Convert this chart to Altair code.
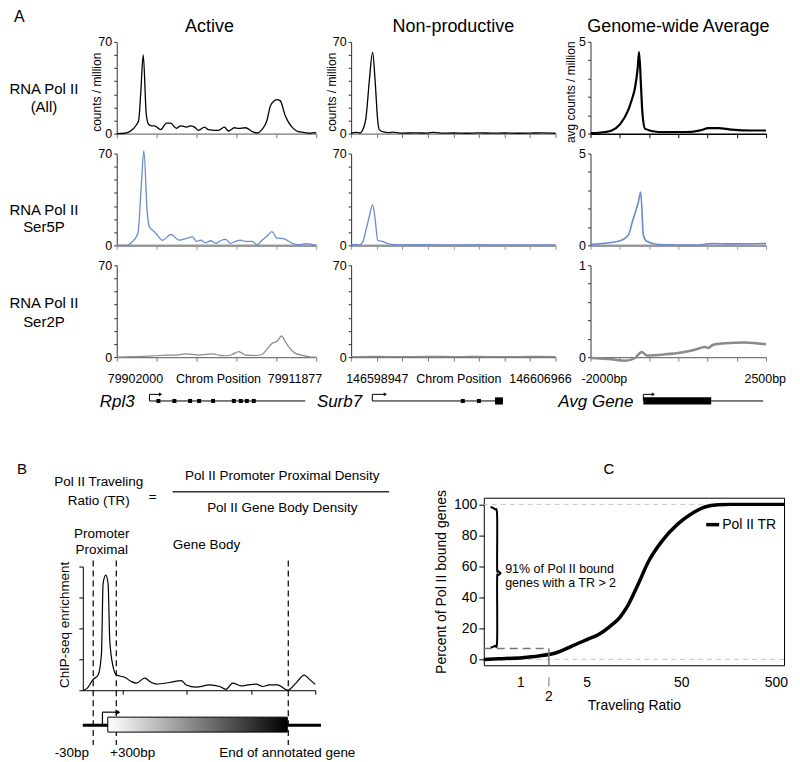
import altair as alt
import pandas as pd

FONT = "Liberation Sans"

# ---------------- Panel A data (bins across each region / bp for average) ----------------
# Active gene (Rpl3), 100 bins across 79902000-79911877
active_all_x = [0, 4, 6.5, 10, 11, 12, 13.3, 14.8, 16, 17.5, 19, 22, 25, 27, 30, 32, 35, 37, 39, 41, 44, 46, 49, 51, 54, 56, 59, 61, 64.5, 68, 70.3, 72.8, 75.3, 77, 79, 80.3, 82, 84.4, 86, 88.5, 91, 93.5, 96.8, 99.3, 100]
active_all_y = [0, 0.3, 1.5, 7, 10, 30, 60, 15, 7, 6, 6, 3, 8, 8, 4, 6, 5, 6, 5, 2.5, 5, 3, 2.5, 2.5, 5, 2, 4.5, 4, 4.5, 1.5, 0.5, 3, 10, 21, 25, 26, 25, 14, 9, 4, 1.5, 1, 0.3, 0.8, 0.3]
active_s5_x = [0, 5, 7.3, 10.6, 12.3, 13.6, 15.3, 16.4, 18, 19.7, 23, 27.2, 31.3, 34.7, 38, 40, 42, 44.6, 47.1, 49.6, 52, 54.6, 57, 59.5, 62, 64.5, 67.8, 70.3, 72.8, 75.3, 77.8, 80.3, 83.6, 87.7, 91, 95.2, 98.5, 100]
active_s5_y = [0, 0, 2, 9, 45, 72, 25, 14, 11.5, 9, 3.9, 8.3, 3.9, 5.2, 6.5, 3, 4, 2, 3.5, 1.5, 3.5, 4.5, 1.5, 3, 4, 3, 3, 0.5, 3.9, 7, 10.4, 5.5, 5.2, 1.8, 0.5, 1.3, 0.5, 0]
active_s2_x = [0, 13, 19.7, 25, 30, 34.7, 41.3, 44.6, 48, 51.2, 54.6, 57.9, 61.2, 64.5, 69.5, 72.8, 75.3, 77.8, 80.3, 82.7, 84.4, 86.1, 89.4, 92.7, 97.7, 100]
active_s2_y = [0, 0.5, 1, 1.5, 1.5, 2.5, 1.5, 2, 2.5, 1.5, 1, 2, 4.2, 1.5, 1.2, 2, 6, 10.4, 12, 16.1, 12, 8, 3, 1.5, 0, 0]

# Non-productive gene (Surb7), 80 bins across 146598947-146606966
np_all_x = [0, 2, 3.5, 4.3, 5.8, 7.1, 8.4, 9.4, 10.4, 11, 12.2, 15, 16, 20, 25, 30, 32, 35, 40, 45, 50, 55, 60, 65, 70, 75, 80]
np_all_y = [0.5, 1, 0.5, 2, 12, 40, 62, 40, 10, 3, 1.5, 0.8, 1.2, 0.4, 0.6, 0.4, 1.0, 0.4, 0.5, 0.3, 0.6, 0.4, 0.5, 0.3, 0.4, 0.6, 0.3]
np_s5_x = [0, 2, 3.1, 4.4, 5.8, 7.1, 8.4, 9.4, 10.4, 12.3, 15, 20, 30, 40, 50, 60, 70, 80]
np_s5_y = [0.5, 0.8, 0.3, 2, 11.7, 22, 31, 20, 3.9, 3, 1, 0.4, 0.5, 0.3, 0.5, 0.3, 0.4, 0.3]
np_s2_x = [0, 10, 20, 30, 40, 50, 60, 70, 80]
np_s2_y = [0.3, 0.5, 0.3, 0.6, 0.4, 0.5, 0.3, 0.5, 0.4]

# Genome-wide average, bp (-2000 .. 2500)
gen_all_x = [-2000, -1624, -1455, -1241, -1028, -944, -857, -791, -755, -704, -670, -601, -261, 250, 590, 846, 1017, 1273, 1613, 2125, 2500]
gen_all_y = [0.03, 0.09, 0.17, 0.52, 1.31, 1.83, 2.53, 3.57, 4.44, 2.5, 1.13, 0.26, 0.09, 0.09, 0.1, 0.2, 0.3, 0.3, 0.22, 0.17, 0.17]
gen_s5_x = [-2000, -1284, -1028, -944, -857, -773, -714, -645, -560, -261, 762, 1102, 1613, 2500]
gen_s5_y = [0.05, 0.22, 0.56, 1.16, 1.76, 2.36, 2.9, 0.56, 0.22, 0.05, 0.02, 0.1, 0.08, 0.1]
gen_s2_x = [-2000, -1455, -1113, -857, -688, -560, -90, 327, 677, 933, 1017, 1145, 1444, 1956, 2296, 2500]
gen_s2_y = [-0.01, -0.025, -0.04, -0.01, 0.056, 0.018, 0.03, 0.05, 0.08, 0.11, 0.1, 0.135, 0.15, 0.16, 0.147, 0.14]

# Gene models
rpl3_line = [16.4, 94.5]
rpl3_arrow = [16.4, 22]
rpl3_exons = [20.9, 28.9, 36.8, 41.3, 48.3, 58.7, 62.2, 65.2, 68.7]
surb7_line = [8.3, 59.4]
surb7_arrow = [8.3, 13.4]
surb7_exons = [43.7, 50.0]
surb7_big = [56.3, 59.4]
avg_line = [1094, 2424]
avg_arrow = [-645, -389]
avg_box = [-645, 1094]

# ---------------- Panel B data ----------------
b_pos = [-0.617, -0.555, -0.46, -0.384, -0.331, -0.306, -0.264, -0.228, -0.202, -0.15, -0.098, 0.031, 0.135, 0.213, 0.342, 0.446, 0.524, 0.73, 0.912, 0.99, 1.146, 1.35, 1.51, 1.61, 1.715, 1.845, 1.95, 2.08, 2.18, 2.285, 2.415, 2.57, 2.70, 2.83, 2.91, 3.0]
b_sig = [0, 0.06, 0.35, 0.49, 1.19, 3.45, 3.72, 3.45, 1.62, 0.76, 0.49, 0.42, 0.28, 0.23, 0.39, 0.25, 0.2, 0.25, 0.31, 0.17, 0.1, 0.17, 0.12, 0.03, 0.23, 0.14, 0.17, 0.2, 0.12, 0.17, 0.17, 0, 0.23, 0.49, 0.35, 0.19]
b_dash = [-0.46, -0.10, 2.58]
b_gene_line = [-0.622, 3.09]
b_box = [-0.233, 2.565]
b_arrow = [-0.316, -0.073]

# ---------------- Panel C data ----------------
c_tr = [0.41, 0.59, 1.04, 1.56, 2.4, 3.5, 5.04, 6.7, 9.3, 11.2, 13.3, 17.7, 22.5, 31, 46.5, 64.4, 89, 123, 170, 611]
c_pct = [0, 0.4, 1.1, 2.2, 4.3, 8.6, 12.8, 16, 22.4, 27, 33.5, 49, 63, 76, 87.6, 94, 98.3, 99.8, 100, 100]
brace_x = [0.483, 0.535, 0.567, 0.567, 0.58, 0.616, 0.58, 0.567, 0.567, 0.535, 0.483]
brace_y = [98.3, 97.0, 93.0, 60.0, 57.0, 55.6, 54.2, 51.0, 12.0, 8.7, 7.5]

W_ACT, W_NP, W_GEN = 200, 205, 176
H_ROW = 92
H_GENE = 30

BLUE = "#6a8ad0"
GRAY = "#8a8a8a"


def lbl(text, x, y, size=13.5, align="center", style="normal", baseline="middle", color="black"):
    return alt.Chart(pd.DataFrame({"t": [text]})).mark_text(
        align=align, baseline=baseline, fontSize=size, fontStyle=style, font=FONT, color=color
    ).encode(text="t:N", x=alt.value(x), y=alt.value(y))


def track(xs, ys, xdom, xticks, yticks, color, sw, width, ytitle=None, title=None, title_dx=0,
          xcol="#777", xw=1.2, extra=()):
    df = pd.DataFrame({"pos": xs, "val": ys})
    ytop = yticks[-1]
    ykw = dict(values=yticks, labelExpr=f"datum.value == 0 ? '0' : (datum.value == {ytop} ? '{ytop}' : '')",
               tickSize=3, labelFontSize=12.5, labelPadding=2, labelColor="black", labelFont=FONT,
               domainColor="#333", tickColor="#333", grid=False)
    if ytitle:
        ykw.update(title=ytitle, titleFontSize=12, titleFontWeight="normal", titleFont=FONT, titleColor="black",
                   titleX=-20, titleY=50, titleAngle=270, titleAlign="center", titleBaseline="middle")
    else:
        ykw["title"] = None
    line = alt.Chart(df).mark_line(color=color, strokeWidth=sw, interpolate="monotone").encode(
        x=alt.X("pos:Q", scale=alt.Scale(domain=xdom, nice=False, zero=False),
                axis=alt.Axis(values=xticks, labels=False, tickSize=4, domainColor=xcol, domainWidth=xw,
                              tickColor=xcol, grid=False, title=None)),
        y=alt.Y("val:Q", scale=alt.Scale(domain=[0, ytop], nice=False, zero=False), axis=alt.Axis(**ykw)),
    )
    layers = [line, *extra]
    if title:
        layers.append(lbl(title, width / 2 + title_dx, -10, size=18, baseline="alphabetic"))
    return alt.layer(*layers).properties(width=width, height=H_ROW)


def gene_chart(width, xdom, line, arrow, exons, name, name_x, boxes=()):
    sx = alt.Scale(domain=xdom, nice=False, zero=False)
    sy = alt.Scale(domain=[0, 1], nice=False, zero=False)
    layers = [
        alt.Chart(pd.DataFrame({"a": [line[0]], "b": [line[1]], "y": [0.2]})).mark_rule(
            color="black", strokeWidth=1).encode(x=alt.X("a:Q", scale=sx, axis=None), x2="b:Q",
                                                  y=alt.Y("y:Q", scale=sy, axis=None)),
        alt.Chart(pd.DataFrame({"a": [arrow[0]], "y": [0.2], "y2": [0.42]})).mark_rule(
            color="black", strokeWidth=1).encode(x=alt.X("a:Q", scale=sx, axis=None),
                                                  y=alt.Y("y:Q", scale=sy, axis=None), y2="y2:Q"),
        alt.Chart(pd.DataFrame({"a": [arrow[0]], "b": [arrow[1]], "y": [0.42]})).mark_rule(
            color="black", strokeWidth=1).encode(x=alt.X("a:Q", scale=sx, axis=None), x2="b:Q",
                                                  y=alt.Y("y:Q", scale=sy, axis=None)),
        alt.Chart(pd.DataFrame({"a": [arrow[1]], "y": [0.42]})).mark_point(
            shape="triangle-right", filled=True, size=14, color="black", opacity=1).encode(
            x=alt.X("a:Q", scale=sx, axis=None), y=alt.Y("y:Q", scale=sy, axis=None)),
        lbl(name, name_x, 25, size=17, align="right", style="italic"),
    ]
    if exons:
        layers.append(alt.Chart(pd.DataFrame({"a": exons, "y": [0.2] * len(exons)})).mark_square(
            size=16, color="black", opacity=1).encode(x=alt.X("a:Q", scale=sx, axis=None),
                                                      y=alt.Y("y:Q", scale=sy, axis=None)))
    for bx in boxes:
        layers.append(alt.Chart(pd.DataFrame({"a": [bx[0]], "b": [bx[1]], "y": [0.08], "y2": [0.32]})).mark_rect(
            color="black").encode(x=alt.X("a:Q", scale=sx, axis=None), x2="b:Q",
                                  y=alt.Y("y:Q", scale=sy, axis=None), y2="y2:Q"))
    return alt.layer(*layers).properties(width=width, height=H_GENE)


ACT_T = [0, 20, 40, 60, 80, 100]
NP_T = [0, 10, 20, 30, 40, 50, 60, 70, 80]
GEN_T = [-2000, -1250, -500, 250, 1000, 1750, 2500]
Y70 = [0, 10, 20, 30, 40, 50, 60, 70]
Y5 = [0, 1, 2, 3, 4, 5]
Y1 = [0, 0.2, 0.4, 0.6, 0.8, 1]

act1 = track(active_all_x, active_all_y, [0, 100], ACT_T, Y70, "black", 1.3, W_ACT,
             ytitle="counts / million", title="Active", title_dx=-7,
             extra=[lbl("A", -103, -25, size=16, align="left"),
                    lbl("RNA Pol II", -73, 47, size=15), lbl("(All)", -73, 65, size=15)])
np1 = track(np_all_x, np_all_y, [0, 80], NP_T, Y70, "black", 1.3, W_NP,
            ytitle="counts / million", title="Non-productive")
g1 = track(gen_all_x, gen_all_y, [-2000, 2500], GEN_T, Y5, "black", 2.2, W_GEN,
           ytitle="avg counts / million", title="Genome-wide Average", xcol="black", xw=1.5)

act2 = track(active_s5_x, active_s5_y, [0, 100], ACT_T, Y70, BLUE, 1.3, W_ACT, xcol="#999", xw=2.5,
             extra=[lbl("RNA Pol II", -73, 57, size=15), lbl("Ser5P", -73, 74, size=15)])
np2 = track(np_s5_x, np_s5_y, [0, 80], NP_T, Y70, BLUE, 1.3, W_NP, xcol="#999", xw=2.5)
g2 = track(gen_s5_x, gen_s5_y, [-2000, 2500], GEN_T, Y5, BLUE, 1.6, W_GEN, xcol="#999", xw=2.5)

act3 = track(active_s2_x, active_s2_y, [0, 100], ACT_T, Y70, GRAY, 1.2, W_ACT,
             extra=[lbl("RNA Pol II", -73, 38, size=15), lbl("Ser2P", -73, 57, size=15),
                    lbl("79902000", -9, 114, size=12.5, align="left"),
                    lbl("Chrom Position", 102, 114, size=12.5),
                    lbl("79911877", 206, 114, size=12.5, align="right")])
np3 = track(np_s2_x, np_s2_y, [0, 80], NP_T, Y70, GRAY, 1.2, W_NP,
            extra=[lbl("146598947", -5, 114, size=12.5, align="left"),
                   lbl("Chrom Position", 108, 114, size=12.5),
                   lbl("146606966", 221, 114, size=12.5, align="right")])
g3 = track(gen_s2_x, gen_s2_y, [-2000, 2500], GEN_T, Y1, GRAY, 2.5, W_GEN,
           extra=[lbl("-2000bp", -9, 114, size=12.5, align="left"),
                  lbl("2500bp", 196, 114, size=12.5, align="right")])

gene1 = gene_chart(W_ACT, [0, 100], rpl3_line, rpl3_arrow, rpl3_exons, "Rpl3", 18)
gene2 = gene_chart(W_NP, [0, 80], surb7_line, surb7_arrow, surb7_exons, "Surb7", 11, boxes=[surb7_big])
gene3 = gene_chart(W_GEN, [-2000, 2500], avg_line, avg_arrow, [], "Avg Gene", 43, boxes=[avg_box])

top = alt.concat(act1, np1, g1, act2, np2, g2, act3, np3, g3, gene1, gene2, gene3,
                 columns=3, spacing={"row": 20, "column": 35}, bounds="flush", align="each")

# ---------------- Panel B ----------------
bsx = alt.Scale(domain=[-0.622, 3.0], range=[-34, 199], nice=False, zero=False)
bsy = alt.Scale(domain=[0, 4], range=[193, 69], nice=False, zero=False)
bxa = alt.Axis(values=[0, 1, 2, 3], labels=False, tickSize=4, domainColor="black", tickColor="black",
               grid=False, title=None)
bya = alt.Axis(values=[0, 1, 2, 3, 4], labels=False, tickSize=4, domainColor="black", tickColor="black",
               grid=False, offset=34, title="ChIP-seq enrichment", titleFontSize=13.5, titleFontWeight="normal",
               titleFont=FONT, titleColor="black", titleX=-18, titleY=127, titleAngle=270,
               titleAlign="center", titleBaseline="middle")
b_curve = alt.Chart(pd.DataFrame({"x": b_pos, "y": b_sig})).mark_line(
    color="black", strokeWidth=1.2, interpolate="monotone").encode(
    x=alt.X("x:Q", scale=bsx, axis=bxa), y=alt.Y("y:Q", scale=bsy, axis=bya))
b_dashes = alt.Chart(pd.DataFrame({"x": b_dash})).mark_rule(
    color="black", strokeWidth=1.2, strokeDash=[6, 4]).encode(
    x=alt.X("x:Q", scale=bsx, axis=bxa), y=alt.value(63), y2=alt.value(248))
b_gl = alt.Chart(pd.DataFrame({"x": [b_gene_line[0]], "x2": [b_gene_line[1]]})).mark_rule(
    color="black", strokeWidth=3).encode(x=alt.X("x:Q", scale=bsx, axis=bxa), x2="x2:Q", y=alt.value(228))
grad = alt.Gradient(gradient="linear", x1=0, x2=1, y1=0, y2=0,
                    stops=[alt.GradientStop(color="#ffffff", offset=0),
                           alt.GradientStop(color="#f2f2f2", offset=0.06),
                           alt.GradientStop(color="#000000", offset=1)])
b_boxm = alt.Chart(pd.DataFrame({"x": [b_box[0]], "x2": [b_box[1]]})).mark_rect(
    fill=grad, stroke="black", strokeWidth=1).encode(
    x=alt.X("x:Q", scale=bsx, axis=bxa), x2="x2:Q", y=alt.value(220), y2=alt.value(235))
b_av = alt.Chart(pd.DataFrame({"x": [b_arrow[0]]})).mark_rule(color="black", strokeWidth=1.2).encode(
    x=alt.X("x:Q", scale=bsx, axis=bxa), y=alt.value(228), y2=alt.value(215))
b_ah = alt.Chart(pd.DataFrame({"x": [b_arrow[0]], "x2": [b_arrow[1]]})).mark_rule(
    color="black", strokeWidth=1.2).encode(x=alt.X("x:Q", scale=bsx, axis=bxa), x2="x2:Q", y=alt.value(215))
b_head = alt.Chart(pd.DataFrame({"x": [b_arrow[1]]})).mark_point(
    shape="triangle-right", filled=True, size=30, color="black", opacity=1).encode(
    x=alt.X("x:Q", scale=bsx, axis=bxa), y=alt.value(215))
frac = alt.Chart(pd.DataFrame({"t": [1]})).mark_rule(color="#333", strokeWidth=1.5).encode(
    x=alt.value(56), x2=alt.value(273), y=alt.value(-6))

B = alt.layer(
    b_curve, b_dashes, b_gl, b_boxm, b_av, b_ah, b_head, frac,
    lbl("B", -100, -29, size=15, align="left"),
    lbl("Pol II Traveling", -18, -16), lbl("Ratio (TR)", -18, 3),
    lbl("=", 36, -1),
    lbl("Pol II Promoter Proximal Density", 166, -22),
    lbl("Pol II Gene Body Density", 166, 10),
    lbl("Promoter", -15, 36), lbl("Proximal", -15, 52),
    lbl("Gene Body", 90, 47),
    lbl("-30bp", -45, 256), lbl("+300bp", 16, 256), lbl("End of annotated gene", 171, 256),
).properties(width=199, height=193)

# ---------------- Panel C ----------------
csx = alt.Scale(type="log", domain=[0.41, 611], nice=False)
csy = alt.Scale(domain=[-3.8, 104.3], nice=False, zero=False)
cxa = alt.Axis(values=[1, 5, 50, 500], format="d", ticks=False, domain=False, grid=False, labelFontSize=14,
               labelPadding=10, labelColor="black", labelFont=FONT, title="Traveling Ratio", titleFontSize=14,
               titleFontWeight="normal", titleFont=FONT, titleColor="black", titleY=40, titleBaseline="middle")
cya = alt.Axis(values=[0, 20, 40, 60, 80, 100], tickSize=5, tickColor="black", labelFontSize=14, labelPadding=2,
               labelColor="black", labelFont=FONT, domain=False, grid=False, title="Percent of Pol II bound genes",
               titleFontSize=14, titleFontWeight="normal", titleFont=FONT, titleColor="black", titleX=-42,
               titleY=84, titleAngle=270, titleAlign="center", titleBaseline="middle")

c_curve = alt.Chart(pd.DataFrame({"x": c_tr, "y": c_pct})).mark_line(
    color="black", strokeWidth=3.5, interpolate="monotone").encode(
    x=alt.X("x:Q", scale=csx, axis=cxa), y=alt.Y("y:Q", scale=csy, axis=cya))
c_grid = alt.Chart(pd.DataFrame({"y": [0, 100]})).mark_rule(
    color="#c4c4c4", strokeWidth=1, strokeDash=[5, 4]).encode(y=alt.Y("y:Q", scale=csy, axis=cya))
c_brace = alt.Chart(pd.DataFrame({"x": brace_x, "y": brace_y, "i": list(range(len(brace_x)))})).mark_line(
    color="black", strokeWidth=2, interpolate="cardinal").encode(
    x=alt.X("x:Q", scale=csx, axis=cxa), y=alt.Y("y:Q", scale=csy, axis=cya), order="i:Q")
c_hd = alt.Chart(pd.DataFrame({"x": [0.41], "x2": [2], "y": [7]})).mark_rule(
    color="#777", strokeWidth=1.5, strokeDash=[8, 5]).encode(
    x=alt.X("x:Q", scale=csx, axis=cxa), x2="x2:Q", y=alt.Y("y:Q", scale=csy, axis=cya))
c_vd = alt.Chart(pd.DataFrame({"x": [2], "y": [7], "y2": [-3.8]})).mark_rule(
    color="#777", strokeWidth=1.5).encode(
    x=alt.X("x:Q", scale=csx, axis=cxa), y=alt.Y("y:Q", scale=csy, axis=cya), y2="y2:Q")
c_tick2 = alt.Chart(pd.DataFrame({"x": [2]})).mark_rule(color="#888", strokeWidth=1.2).encode(
    x=alt.X("x:Q", scale=csx, axis=cxa), y=alt.value(180), y2=alt.value(189))
c_lab2 = alt.Chart(pd.DataFrame({"x": [2], "t": ["2"]})).mark_text(
    fontSize=14, font=FONT, color="black", baseline="middle").encode(
    x=alt.X("x:Q", scale=csx, axis=cxa), y=alt.value(200), text="t:N")
c_btxt = alt.Chart(pd.DataFrame({"x": [0.69, 0.69], "y": [58.0, 49.5],
                                 "t": ["91% of Pol II bound", "genes with a TR > 2"]})).mark_text(
    fontSize=12.5, font=FONT, color="black", align="left", baseline="middle").encode(
    x=alt.X("x:Q", scale=csx, axis=cxa), y=alt.Y("y:Q", scale=csy, axis=cya), text="t:N")
c_leg = alt.Chart(pd.DataFrame({"t": [1]})).mark_rule(color="black", strokeWidth=3.5).encode(
    x=alt.value(223), x2=alt.value(236), y=alt.value(27))

C = alt.layer(
    c_grid, c_curve, c_brace, c_hd, c_vd, c_tick2, c_lab2, c_btxt, c_leg,
    lbl("Pol II TR", 239, 27, size=14, align="left"),
    lbl("C", 120, -29, size=15, align="left"),
).properties(width=301, height=168, view=alt.ViewBackground(stroke="black", strokeWidth=1))

bottom = alt.hconcat(B, C, spacing=169, bounds="flush")

chart = alt.vconcat(top, bottom, spacing=51).properties(padding=0).configure_view(
    stroke=None).configure_text(font=FONT).configure_axis(labelFont=FONT, titleFont=FONT)

chart.save("out.html", embed_options={"renderer": "svg", "actions": False})
